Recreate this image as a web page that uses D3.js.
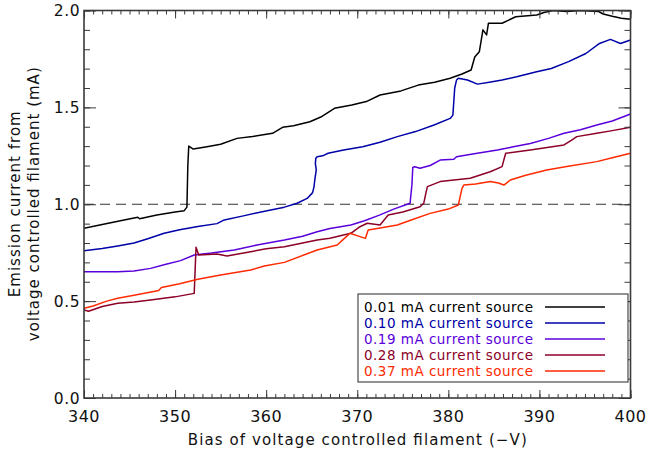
<!DOCTYPE html>
<html>
<head>
<meta charset="utf-8">
<script src="https://cdn.jsdelivr.net/npm/d3@7"></script>
<style>
  html, body { margin: 0; padding: 0; background: #fff; }
  svg text { font-family: "DejaVu Sans", sans-serif; }
</style>
</head>
<body>
<svg id="chart" width="647" height="451"></svg>
<script>
// Emission current vs. filament bias for several current-source settings
const xTicks = [340, 350, 360, 370, 380, 390, 400];
const yTicks = [0.0, 0.5, 1.0, 1.5, 2.0];
const seriesLabels = ["0.01 mA current source", "0.10 mA current source", "0.19 mA current source", "0.28 mA current source", "0.37 mA current source"];
const seriesColors = ["#000000", "#0000a8", "#5a00dc", "#8c0028", "#ff2a00"];

const v001 = [340, 342, 344, 345.9, 346.1, 348, 350, 351, 351.3, 351.4, 351.5, 352, 353.5, 355, 356.8, 358.5, 360.7, 361.8, 363, 364.8, 366, 367.5, 369.4, 371, 372.5, 374.8, 376.7, 378.5, 380.2, 381.5, 382.5, 382.9, 383.4, 383.8, 384.2, 384.4, 385.9, 387.4, 389.7, 390.5, 391.5, 393, 394.5, 396.5, 397, 398, 399, 400];
const i001 = [0.876, 0.895, 0.915, 0.933, 0.925, 0.945, 0.96, 0.967, 0.985, 1.20, 1.30, 1.285, 1.297, 1.31, 1.34, 1.35, 1.366, 1.397, 1.405, 1.426, 1.45, 1.495, 1.512, 1.53, 1.564, 1.585, 1.615, 1.63, 1.65, 1.672, 1.693, 1.76, 1.787, 1.90, 1.874, 1.934, 1.934, 1.968, 1.977, 1.99, 2.0, 1.995, 2.0, 1.995, 1.982, 1.97, 1.96, 1.955];

const v010 = [340, 342, 343.7, 345.5, 347, 348.8, 350.5, 352.5, 354.6, 355.4, 357.5, 360.1, 362, 363.4, 364.5, 365.1, 365.25, 365.35, 365.5, 365.4, 365.45, 365.6, 366.2, 366.8, 368.5, 370.6, 372.5, 374.4, 376.4, 378.5, 380.2, 380.5, 380.7, 380.9, 381.1, 382.1, 383.2, 384.5, 385.9, 387.5, 389.7, 391.3, 393.2, 395.1, 396.6, 397.8, 398.9, 400];
const i010 = [0.760, 0.772, 0.785, 0.80, 0.822, 0.85, 0.868, 0.885, 0.90, 0.919, 0.94, 0.967, 0.985, 1.005, 1.03, 1.06, 1.09, 1.13, 1.177, 1.21, 1.237, 1.245, 1.25, 1.263, 1.28, 1.297, 1.32, 1.349, 1.375, 1.41, 1.443, 1.46, 1.60, 1.641, 1.65, 1.641, 1.62, 1.63, 1.641, 1.658, 1.684, 1.701, 1.736, 1.778, 1.83, 1.851, 1.83, 1.848];

const v019 = [340, 343.7, 345.5, 347.3, 349, 350.6, 352.1, 354, 356.5, 359, 362, 364, 365.6, 367, 369.3, 370.8, 372.5, 374, 375.8, 376.0, 376.1, 376.3, 376.9, 378, 379.1, 380.6, 380.9, 383, 385.4, 387, 389, 391, 392.7, 394.5, 396.3, 398, 400];
const i019 = [0.652, 0.652, 0.655, 0.669, 0.69, 0.709, 0.738, 0.748, 0.764, 0.79, 0.815, 0.835, 0.858, 0.875, 0.893, 0.915, 0.945, 0.975, 1.005, 1.10, 1.19, 1.194, 1.186, 1.20, 1.228, 1.232, 1.245, 1.262, 1.28, 1.295, 1.314, 1.34, 1.366, 1.385, 1.409, 1.43, 1.466];

const v028 = [340, 340.5, 342, 343.7, 345.5, 347.3, 350, 352.1, 352.2, 352.3, 352.6, 354.6, 355.7, 358.3, 360, 362, 365.6, 367, 369.3, 370.3, 371.1, 372.5, 373.4, 375, 376.9, 377.3, 377.5, 377.7, 379.1, 382.4, 384.6, 385.9, 386.1, 386.3, 389, 392.7, 393.5, 394.1, 396.3, 398, 400];
const i028 = [0.454, 0.448, 0.472, 0.489, 0.495, 0.506, 0.522, 0.540, 0.66, 0.778, 0.738, 0.743, 0.733, 0.755, 0.77, 0.781, 0.815, 0.824, 0.85, 0.884, 0.902, 0.893, 0.945, 0.96, 0.987, 1.005, 1.05, 1.091, 1.117, 1.134, 1.168, 1.194, 1.23, 1.263, 1.28, 1.306, 1.33, 1.349, 1.366, 1.38, 1.397];

const v037 = [340, 341, 342.5, 343.7, 345.5, 347.5, 348.2, 348.5, 350.5, 352.5, 355, 358.3, 359.8, 362, 365.6, 367.8, 368.5, 369.2, 370.3, 370.9, 371.2, 372.5, 374.4, 376, 378, 380, 381.1, 381.5, 381.7, 383, 384.6, 385.5, 386.1, 386.8, 388.5, 390.8, 393, 396.3, 398, 400];
const i037 = [0.463, 0.475, 0.50, 0.515, 0.53, 0.548, 0.555, 0.57, 0.59, 0.613, 0.635, 0.661, 0.681, 0.70, 0.764, 0.79, 0.82, 0.85, 0.833, 0.824, 0.867, 0.878, 0.893, 0.92, 0.953, 0.975, 0.996, 1.082, 1.099, 1.105, 1.117, 1.11, 1.099, 1.125, 1.15, 1.177, 1.195, 1.22, 1.24, 1.263];

const seriesV = [v001, v010, v019, v028, v037];
const seriesI = [i001, i010, i019, i028, i037];
const referenceLevel = 1.0;

const svg = d3.select("#chart");
const pL = 84, pR = 630.5, pT = 10.5, pB = 398;
const axisColor = "#3a3a3a";
const textColor = "#111";

const x = d3.scaleLinear().domain([340, 400]).range([pL, pR]);
const y = d3.scaleLinear().domain([0, 2]).range([pB, pT]);

svg.append("defs").append("clipPath").attr("id", "plotClip")
  .append("rect").attr("x", pL).attr("y", pT).attr("width", pR - pL).attr("height", pB - pT);

// dashed reference at 1.0 mA
svg.append("line")
  .attr("x1", x(340)).attr("x2", x(400))
  .attr("y1", y(referenceLevel)).attr("y2", y(referenceLevel))
  .attr("stroke", "#333").attr("stroke-width", 1.2)
  .attr("stroke-dasharray", "10,6");

// data curves
const line = d3.line().x(d => x(d[0])).y(d => y(d[1]));
const plot = svg.append("g").attr("clip-path", "url(#plotClip)");
seriesV.forEach((vs, k) => {
  const pts = vs.map((v, j) => [v, seriesI[k][j]]);
  plot.append("path").datum(pts)
    .attr("d", line)
    .attr("fill", "none")
    .attr("stroke", seriesColors[k])
    .attr("stroke-width", 1.5)
    .attr("stroke-linejoin", "round");
});

// axes: ticks every 1 V and every 0.1 mA, longer ticks at labelled values, mirrored on all four sides
const xMinor = d3.range(340, 401, 1);
const yMinor = d3.range(0, 21, 1).map(v => v / 10);

function tickAxis(axisFn, scale, values, size, tx, ty) {
  const g = svg.append("g").attr("transform", `translate(${tx},${ty})`)
    .call(axisFn(scale).tickValues(values).tickSizeInner(size).tickSizeOuter(0).tickFormat(""));
  g.select(".domain").remove();
  g.selectAll(".tick line").attr("stroke", axisColor).attr("stroke-width", 1);
  return g;
}
// negative sizes point the ticks into the plot
tickAxis(d3.axisBottom, x, xMinor, -4, 0, pB);
tickAxis(d3.axisBottom, x, xTicks, -8, 0, pB);
tickAxis(d3.axisTop, x, xMinor, -4, 0, pT);
tickAxis(d3.axisTop, x, xTicks, -8, 0, pT);
tickAxis(d3.axisLeft, y, yMinor, -6, pL, 0);
tickAxis(d3.axisLeft, y, yTicks, -12, pL, 0);
tickAxis(d3.axisRight, y, yMinor, -6, pR, 0);
tickAxis(d3.axisRight, y, yTicks, -12, pR, 0);

// frame
svg.append("rect")
  .attr("x", pL).attr("y", pT).attr("width", pR - pL).attr("height", pB - pT)
  .attr("fill", "none").attr("stroke", axisColor).attr("stroke-width", 1.6);

// tick labels
svg.append("g").selectAll("text").data(xTicks).join("text")
  .attr("x", d => x(d)).attr("y", pB + 24)
  .attr("text-anchor", "middle")
  .attr("font-size", 16).attr("fill", textColor)
  .attr("letter-spacing", 0.5)
  .text(d => d3.format("d")(d));

svg.append("g").selectAll("text").data(yTicks).join("text")
  .attr("x", pL - 4).attr("y", d => y(d) + 5.5)
  .attr("text-anchor", "end")
  .attr("font-size", 15.5).attr("fill", textColor)
  .attr("letter-spacing", 0.5)
  .text(d => d3.format(".1f")(d));

// axis titles, stretched to the plot's wide IDL-style letter spacing
svg.append("text")
  .attr("x", (pL + pR) / 2).attr("y", 445)
  .attr("text-anchor", "middle")
  .attr("font-size", 15).attr("fill", textColor)
  .attr("textLength", 339).attr("lengthAdjust", "spacing")
  .text("Bias of voltage controlled filament (\u2212V)");

const yMid = (pT + pB) / 2;
svg.append("text")
  .attr("transform", `translate(20,${yMid}) rotate(-90)`)
  .attr("text-anchor", "middle")
  .attr("font-size", 15).attr("fill", textColor)
  .attr("textLength", 186).attr("lengthAdjust", "spacing")
  .text("Emission current from");
svg.append("text")
  .attr("transform", `translate(39,${yMid}) rotate(-90)`)
  .attr("text-anchor", "middle")
  .attr("font-size", 15).attr("fill", textColor)
  .attr("textLength", 274).attr("lengthAdjust", "spacing")
  .text("voltage controlled filament (mA)");

// legend
const lg = svg.append("g");
lg.append("rect")
  .attr("x", 358).attr("y", 294).attr("width", 270).attr("height", 88)
  .attr("fill", "#fff").attr("stroke", axisColor).attr("stroke-width", 1.1);
seriesLabels.forEach((lab, k) => {
  const yy = 307 + k * 16;
  lg.append("text")
    .attr("x", 364).attr("y", yy + 5)
    .attr("font-size", 13.5).attr("fill", seriesColors[k])
    .attr("textLength", 169).attr("lengthAdjust", "spacing")
    .text(lab);
  lg.append("line")
    .attr("x1", 545).attr("x2", 605)
    .attr("y1", yy).attr("y2", yy)
    .attr("stroke", seriesColors[k]).attr("stroke-width", 1.3);
});
</script>
</body>
</html>
